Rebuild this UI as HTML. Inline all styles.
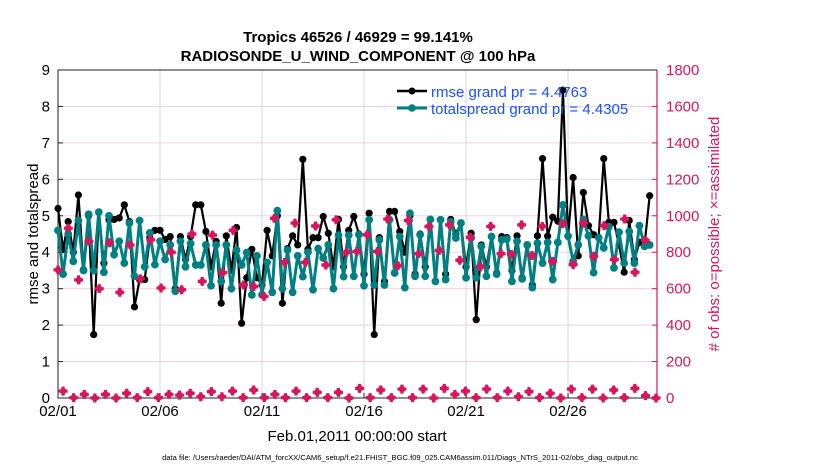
<!DOCTYPE html>
<html><head><meta charset="utf-8"><style>
html,body{margin:0;padding:0;background:#fff;}
svg{display:block;font-family:"Liberation Sans",Arial,sans-serif;}
</style></head><body>
<svg id="chart" width="830" height="470" viewBox="0 0 830 470">
<text x="358" y="42" font-size="15" font-weight="bold" text-anchor="middle">Tropics 46526 / 46929 = 99.141%</text>
<text x="358" y="61" font-size="15" font-weight="bold" text-anchor="middle">RADIOSONDE_U_WIND_COMPONENT @ 100 hPa</text>
<g id="grid"></g>
<g id="axes"></g>
<g id="series"></g>
<text x="357" y="441" font-size="15" text-anchor="middle">Feb.01,2011 00:00:00 start</text>
<text transform="translate(38,234) rotate(-90)" font-size="15" text-anchor="middle">rmse and totalspread</text>
<text transform="translate(719,234) rotate(-90)" font-size="15" fill="#d6175e" text-anchor="middle"># of obs: o=possible; ×=assimilated</text>
<text x="400" y="460" font-size="7.6" text-anchor="middle">data file: /Users/raeder/DAI/ATM_forcXX/CAM6_setup/f.e21.FHIST_BGC.f09_025.CAM6assim.011/Diags_NTrS_2011-02/obs_diag_output.nc</text>
<g>
<line x1="397" y1="91" x2="427" y2="91" stroke="#000" stroke-width="2.5"/>
<circle cx="412" cy="91" r="3.5" fill="#000"/>
<text x="431" y="97" font-size="15" fill="#1a50ff">rmse grand pr = 4.4763</text>
<line x1="397" y1="108" x2="427" y2="108" stroke="#008080" stroke-width="3"/>
<circle cx="412" cy="108" r="3.8" fill="#008080"/>
<text x="431" y="114" font-size="15" fill="#1a50ff">totalspread grand pr = 4.4305</text>
</g>
</svg>
<script>
const rmse=[5.2,4.07,4.84,4.0,5.57,3.52,5.0,1.74,5.1,3.7,4.89,4.9,4.94,5.3,4.84,2.5,3.25,3.25,4.4,4.6,4.6,4.35,4.43,3.0,4.43,3.8,4.43,5.3,
5.3,4.57,3.6,4.3,2.6,4.45,3.5,4.68,2.05,3.3,4.08,3.3,3.1,4.6,3.9,5.0,2.6,4.1,4.45,4.2,6.55,4.08,4.4,4.4,4.98,4.52,3.6,4.9,3.6,4.6,
4.98,4.5,3.4,5.07,1.74,4.4,3.2,5.12,5.12,4.57,4.0,5.0,3.4,4.5,3.6,4.9,3.2,4.89,3.4,4.9,4.5,4.8,3.6,4.52,2.15,4.2,3.6,4.43,3.43,4.43,
4.4,3.5,4.45,3.3,4.2,3.1,4.45,6.57,4.44,4.96,4.85,8.45,4.44,6.05,3.9,5.64,4.73,4.48,4.4,6.57,4.82,4.82,4.2,3.45,4.87,3.8,4.27,4.2,5.55];
const spread=[4.6,3.4,4.5,3.75,4.87,3.5,5.04,3.5,5.1,3.45,5.0,3.93,4.3,3.7,4.8,3.34,4.87,3.6,4.53,3.66,4.3,3.8,4.2,2.93,4.3,3.6,4.24,3.65,
3.65,4.2,3.08,4.2,3.2,4.2,3.0,4.06,3.65,3.99,2.83,3.9,2.83,3.72,2.9,5.14,3.0,4.06,2.9,3.9,3.33,4.0,2.97,4.1,3.84,4.2,3.0,4.47,3.33,4.47,
3.34,4.48,3.08,4.89,3.1,4.34,3.1,4.89,3.43,4.43,3.03,5.07,3.34,4.48,3.34,4.9,3.2,4.89,3.25,4.84,4.39,4.8,3.3,4.39,3.3,4.16,3.34,4.43,3.4,4.34,
4.36,3.2,4.3,3.27,4.2,3.03,4.25,3.7,4.27,3.25,4.27,5.3,4.44,3.75,4.2,4.9,4.45,3.44,4.4,4.12,4.7,3.57,4.55,3.7,4.57,3.7,4.73,4.16,4.2];
const assimilated=[703,932,648,860,600,852,580,840,654,868,604,800,594,900,640,
894,688,920,620,612,558,986,744,960,744,944,730,978,800,
804,896,804,982,726,974,792,942,810,950,756,882,720,942,792,
788,950,782,942,750,956,732,960,778,946,760,982,690,866];
const possible=[38,2,20,0,20,0,26,2,35,2,20,16,26,7,35,7,38,2,44,2,20,2,38,2,31,2,31,0,
53,2,44,2,49,2,49,0,53,20,38,2,49,2,38,7,35,2,26,0,49,2,49,0,44,2,53,13,0];
const leftTicks=[0,1,2,3,4,5,6,7,8,9];
const rightTicks=[0,200,400,600,800,1000,1200,1400,1600,1800];
const dateTicks=[0,5,10,15,20,25];
const dateLabels=["02/01","02/06","02/11","02/16","02/21","02/26"];
const stepDays=0.25, assimStepDays=0.505, possibleStepDays=0.519, possibleOffset=0.25;

const X0=58,X1=657,Y0=398,Y1=70,DMAX=29.36;
const xs=d=>X0+(X1-X0)*d/DMAX;
const yl=v=>Y0-(Y0-Y1)*v/9;
const yr=v=>Y0-(Y0-Y1)*v/1800;
const NS="http://www.w3.org/2000/svg";
function mk(tag,parent,attrs){const e=document.createElementNS(NS,tag);for(const k in attrs)e.setAttribute(k,attrs[k]);parent.appendChild(e);return e;}
const grid=document.getElementById('grid'),axes=document.getElementById('axes'),ser=document.getElementById('series');
mk('rect',grid,{x:X0,y:Y1,width:X1-X0,height:Y0-Y1,fill:'#fff'});
leftTicks.forEach(v=>{
 const g=mk('line',grid,{x1:X0,x2:X1,y1:yl(v),y2:yl(v),stroke:'#f2d3de','stroke-width':1});
 
 
 const t=mk('line',axes,{x1:X0,x2:X0+5,y1:yl(v),y2:yl(v),stroke:'#222','stroke-width':1});
 
 
 const l=mk('text',axes,{x:X0-8,y:yl(v)+5,'font-size':15,'text-anchor':'end'});
 l.textContent=v;
 
 
});
dateTicks.forEach((d,i)=>{
 const g=mk('line',grid,{x1:xs(d),x2:xs(d),y1:Y1,y2:Y0,stroke:'#d8d8d8','stroke-width':1});
 
 
 const t=mk('line',axes,{x1:xs(d),x2:xs(d),y1:Y0,y2:Y0-5,stroke:'#222','stroke-width':1});
 
 
 const l=mk('text',axes,{x:xs(d),y:Y0+18,'font-size':15,'text-anchor':'middle'});
 l.textContent=dateLabels[i];
 
 
});
rightTicks.forEach(v=>{
 const t=mk('line',axes,{x1:X1,x2:X1-5,y1:yr(v),y2:yr(v),stroke:'#d6175e','stroke-width':1});
 
 
 const l=mk('text',axes,{x:X1+9,y:yr(v)+5,'font-size':15,fill:'#d6175e'});
 l.textContent=v;
 
 
});
const fr=mk('path',axes,{d:`M${X0} ${Y1}V${Y0}H${X1}`,fill:'none',stroke:'#222','stroke-width':1});


const rf=mk('line',axes,{x1:X1,x2:X1,y1:Y1,y2:Y0,stroke:'#d6175e','stroke-width':1.2});


const tf=mk('line',axes,{x1:X0,x2:X1,y1:Y1,y2:Y1,stroke:'#222','stroke-width':1});



function lineSeries(vals,color,w,r,name){
 const pts=vals.map((v,i)=>[xs(i*stepDays),yl(v)]);
 const p=mk('polyline',ser,{points:pts.map(p=>p.join(',')).join(' '),fill:'none',stroke:color,'stroke-width':w,'stroke-linejoin':'round'});
 
 
 pts.forEach(q=>{
  const c=mk('circle',ser,{cx:q[0],cy:q[1],r:r,fill:color});
  
  
 });
}
lineSeries(rmse,'#000',2.2,3.6,'rmse');
lineSeries(spread,'#008080',3,3.9,'spread');
function star(x,y,name){
 const g=mk('path',ser,{d:`M${x-4.5} ${y}H${x+4.5}M${x} ${y-4.5}V${y+4.5}`,stroke:'#d6175e','stroke-width':3.2});
 
 
 const c=mk('circle',ser,{cx:x,cy:y,r:3.3,fill:'#d6175e'});
 
 
}
assimilated.forEach((v,i)=>star(xs(i*assimStepDays),yr(v),'assimilated-marker'));
possible.forEach((v,i)=>star(xs(possibleOffset+i*possibleStepDays),yr(v),'possible-marker'));
</script>
</body></html>
